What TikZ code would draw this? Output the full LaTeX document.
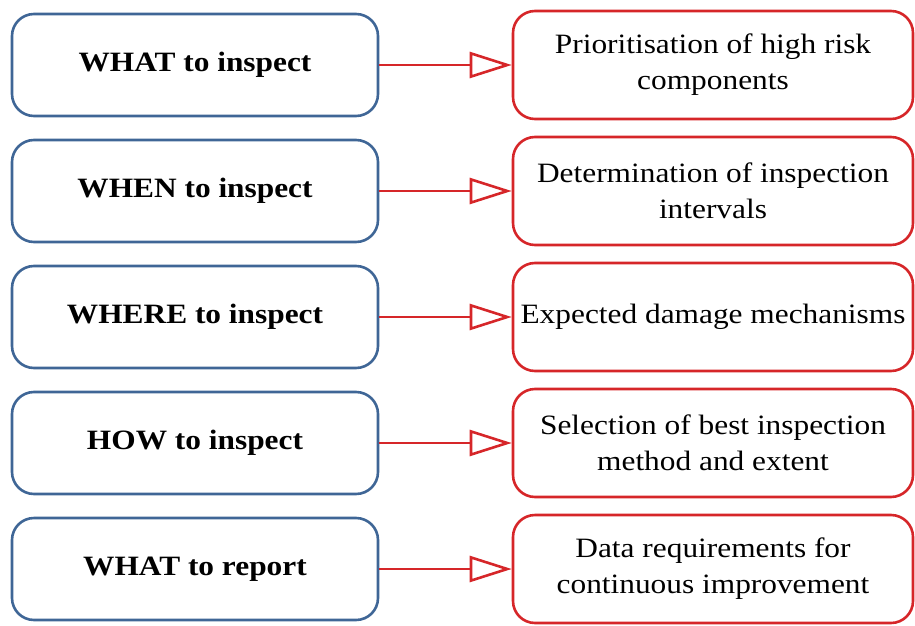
\documentclass[tikz,border=0pt]{standalone}
\usepackage{fontspec}
\setmainfont[FakeStretch=1.12]{Liberation Serif}
\usetikzlibrary{arrows.meta}
\definecolor{qblue}{HTML}{3F6696}
\definecolor{qred}{HTML}{D62629}
\tikzset{
  qbox/.style={rounded corners=22pt, line width=2.6pt, align=center, inner sep=0pt},
  askbox/.style={qbox, draw=qblue, minimum width=366pt, minimum height=102pt, font=\fontsize{28}{36}\selectfont\bfseries},
  ansbox/.style={qbox, draw=qred, minimum width=400pt, minimum height=108pt, font=\fontsize{28}{36}\selectfont},
  link/.style={draw=qred, line width=2.8pt, -{Triangle[open, length=42pt, width=26pt, line width=2.6pt]}}
}
\begin{document}
\begin{tikzpicture}[x=1pt, y=-1pt]
  \useasboundingbox (0,0) rectangle (915,626);
  % question boxes on the left
  \node[askbox] (q1) at (195,65) {WHAT to inspect};
  \node[askbox] (q2) at (195,191) {WHEN to inspect};
  \node[askbox] (q3) at (195,317) {WHERE to inspect};
  \node[askbox] (q4) at (195,443) {HOW to inspect};
  \node[askbox] (q5) at (195,569) {WHAT to report};
  % answer boxes on the right
  \node[ansbox] (a1) at (713,65) {Prioritisation of high risk\\components};
  \node[ansbox] (a2) at (713,191) {Determination of inspection\\intervals};
  \node[ansbox] (a3) at (713,317) {Expected damage mechanisms};
  \node[ansbox] (a4) at (713,443) {Selection of best inspection\\method and extent};
  \node[ansbox] (a5) at (713,569) {Data requirements for\\continuous improvement};
  % connectors
  \foreach \i in {1,...,5} \draw[link] (q\i) -- (a\i);
\end{tikzpicture}
\end{document}
